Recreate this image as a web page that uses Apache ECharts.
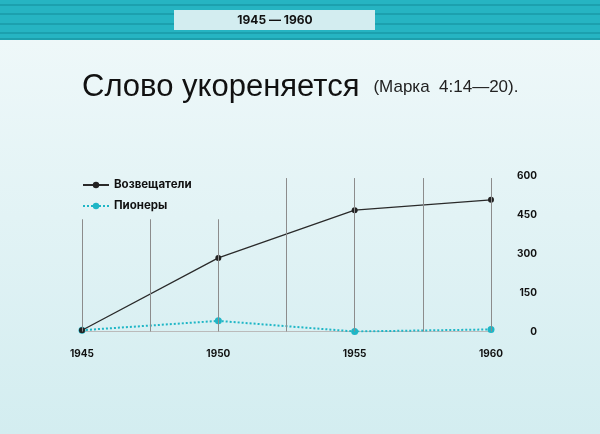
<!DOCTYPE html>
<html><head><meta charset="utf-8">
<script src="https://cdn.jsdelivr.net/npm/echarts@6/dist/echarts.min.js"></script>
<style>html,body{margin:0;padding:0;}#c{width:600px;height:434px;}</style>
</head><body><div id="c"></div>
<script>
const years = [1945, 1950, 1955, 1960];
const heralds = [5, 284, 468, 508];
const pioneers = [5, 41, 0, 8];
const yTicks = [0, 150, 300, 450, 600];
const shortGridX = [1945, 1947.5, 1950];
const tallGridX = [1952.5, 1955, 1957.5, 1960];
const shortGridTop = 433;
const tallGridTop = 592;

const chart = echarts.init(document.getElementById('c'));
const font = 'Inter, Roboto, "Liberation Sans", sans-serif';
const gridLines = shortGridX.map(x => [{coord:[x,0]},{coord:[x,shortGridTop]}])
  .concat(tallGridX.map(x => [{coord:[x,0]},{coord:[x,tallGridTop]}]));

chart.setOption({
  animation:false,
  backgroundColor:{type:'linear',x:0,y:0,x2:0,y2:1,colorStops:[{offset:0,color:'#f1f9fa'},{offset:1,color:'#d3edf0'}]},
  graphic:[
    {type:'rect',shape:{x:0,y:0,width:600,height:40},style:{fill:'#26b4c2'},z:-1},
    {type:'line',shape:{x1:0,y1:5,x2:600,y2:5},style:{stroke:'#138c99',lineWidth:1.2}},
    {type:'line',shape:{x1:0,y1:14,x2:600,y2:14},style:{stroke:'#138c99',lineWidth:1.2}},
    {type:'line',shape:{x1:0,y1:24,x2:600,y2:24},style:{stroke:'#138c99',lineWidth:1.2}},
    {type:'line',shape:{x1:0,y1:33,x2:600,y2:33},style:{stroke:'#138c99',lineWidth:1.2}},
    {type:'rect',shape:{x:0,y:38,width:600,height:2},style:{fill:'#1d9fac'}},
    {type:'rect',shape:{x:174,y:10,width:201,height:20},style:{fill:'#d3edf0'}},
    {type:'text',x:275,y:20,style:{text:'1945 — 1960',font:'bold 12px '+font,fill:'#111',align:'center',verticalAlign:'middle'}}
  ],
  title:{
    left:77, top:67,
    text:'{a|Слово укореняется}{b|(Марка  4:14—20).}',
    textStyle:{fontWeight:'normal',rich:{
      a:{fontFamily:'"Liberation Sans", Arial, sans-serif',fontWeight:'normal',fontSize:31,color:'#111'},
      b:{fontFamily:'"Liberation Sans", Arial, sans-serif',fontWeight:'normal',fontSize:17,color:'#222',padding:[0,0,0,14]}
    }}
  },
  legend:{
    orient:'vertical', left:77, top:174, itemGap:9, itemWidth:26, itemHeight:8,
    textStyle:{fontFamily:font,fontWeight:'bold',fontSize:11.5,color:'#111'},
    data:['Возвещатели','Пионеры']
  },
  grid:{left:82,right:109,top:176,bottom:102.5},
  xAxis:{
    type:'value',min:1945,max:1960,interval:5,
    axisLine:{show:true,lineStyle:{color:'#bbbbbb',width:1}},
    axisTick:{show:false},splitLine:{show:false},
    axisLabel:{margin:17,fontFamily:font,fontWeight:'bold',fontSize:10,color:'#111',formatter:v=>String(v)}
  },
  yAxis:{
    type:'value',position:'right',min:0,max:600,interval:150,
    axisLine:{show:false},axisTick:{show:false},splitLine:{show:false},
    axisLabel:{margin:46,align:'right',fontFamily:font,fontWeight:'bold',fontSize:10,color:'#111',
      formatter:v=>yTicks.includes(v)?String(v):''}
  },
  series:[
    {
      name:'Возвещатели',type:'line',data:years.map((y,i)=>[y,heralds[i]]),
      symbol:'circle',symbolSize:6,showSymbol:true,
      lineStyle:{color:'#2a2a2a',width:1.3},itemStyle:{color:'#222'},z:3,
      markLine:{silent:true,symbol:'none',label:{show:false},
        lineStyle:{color:'#8c8c8c',width:1,type:'solid'},data:gridLines}
    },
    {
      name:'Пионеры',type:'line',data:years.map((y,i)=>[y,pioneers[i]]),
      symbol:'circle',symbolSize:7,
      lineStyle:{color:'#1fb6c6',width:2,type:[2,2]},itemStyle:{color:'#1fb6c6'},z:2
    }
  ]
});
</script></body></html>
